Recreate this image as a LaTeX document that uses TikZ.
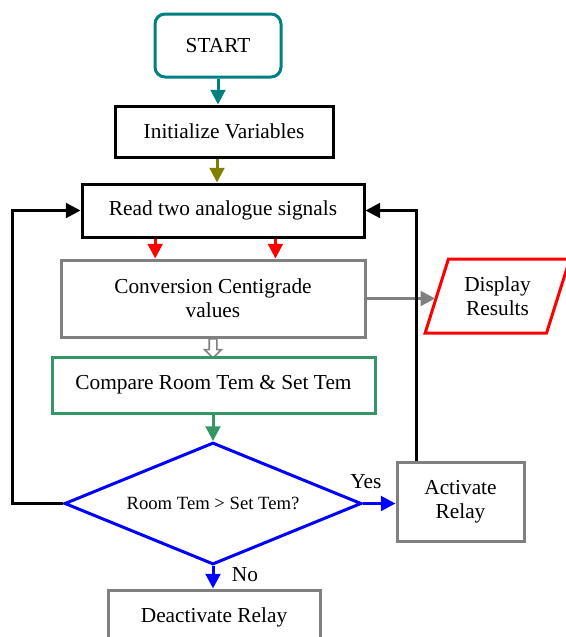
\documentclass[tikz,border=0pt]{standalone}
\usepackage{fontspec}
\setmainfont{Liberation Serif}
\usepackage{tikz}
\usetikzlibrary{arrows.meta,calc,positioning,shapes.geometric,shapes.arrows}
\definecolor{startteal}{RGB}{0,128,128}
\definecolor{initolive}{RGB}{128,128,0}
\definecolor{convgray}{RGB}{128,128,128}
\definecolor{cmpgreen}{RGB}{52,150,100}
\tikzset{>={Triangle[length=11pt,width=11pt]}}
\tikzset{
  sz/.style 2 args={minimum width=#1*0.75pt, minimum height=#2*0.75pt},
  block/.style={draw, line width=2.25pt, inner sep=0pt, align=center},
  flow/.style={->, line width=2.25pt},
}

\begin{document}
\begin{tikzpicture}[x=0.75pt, y=-0.75pt, font=\fontsize{16}{18}\selectfont]
    \useasboundingbox (0,0) rectangle (566,637);
    \node[block, startteal, text=black, rounded corners=7.5pt, sz={126}{63}] (start) at (218,45.5) {START};
    \node[block, sz={218}{51}] (init) at (224,131.5) {Initialize Variables};
    \node[block, sz={282}{53}] (read) at (223,210.5) {Read two analogue signals};
    \node[block, convgray, text=black, sz={304}{77}] (conv) at (213,298.5) {Conversion Centigrade\\values};
    \node[block, red, text=black, trapezium, trapezium left angle=68, trapezium right angle=112,
          trapezium stretches=true, sz={145}{74}] (disp) at (497.5,296) {Display\\Results};
    \node[single arrow, draw=convgray, line width=1.2pt, fill=white, shape border rotate=270,
          inner sep=2.25pt, minimum height=19*0.75pt, single arrow head extend=3.4pt,
          single arrow tip angle=90] (hollow) at (213,346.5) {};
    \node[block, cmpgreen, text=black, sz={323}{56}] (cmp) at (213.5,385) {Compare Room Tem \& Set Tem};
    \node[block, blue, text=black, diamond, aspect=2.4, sz={297}{122}, font=\fontsize{14}{16}\selectfont] (dec) at (213,503.5) {Room Tem > Set Tem?};
    \node[block, convgray, text=black, sz={127}{79}] (act) at (460.5,501.5) {Activate\\Relay};
    \node[block, convgray, text=black, sz={212}{55}] (deact) at (214,617.5) {Deactivate Relay};
    \node (yes) at (366,482) {Yes};
    \node (no) at (245,575) {No};

    \coordinate (olivetop) at ([xshift=-5.25pt]init.south);
    \coordinate (redl) at ($(read.south west)!0.262!(read.south east)$);
    \coordinate (redr) at ($(read.south west)!0.684!(read.south east)$);
    \coordinate (actup) at ([xshift=15.75pt]act.north west);
    \coordinate (loopl) at (12,503.5);

    \draw[flow, startteal] (start.south) -- (start.south |- init.north);
    \draw[flow, initolive] (olivetop) -- (olivetop |- read.north);
    \draw[flow, red] (redl) -- (redl |- conv.north);
    \draw[flow, red] (redr) -- (redr |- conv.north);
    \draw[flow, convgray] (conv.east) -- (conv.east -| disp.west);
    \draw[flow, cmpgreen] (dec.north |- cmp.south) -- (dec.north);
    \draw[flow, blue] (dec.east) -- (dec.east -| act.west);
    \draw[flow, blue] (dec.south) -- (dec.south |- deact.north);
    \draw[flow] (actup) |- (read.east);
    \draw[flow] (dec.west) -- (loopl) |- (read.west);
\end{tikzpicture}
\end{document}
